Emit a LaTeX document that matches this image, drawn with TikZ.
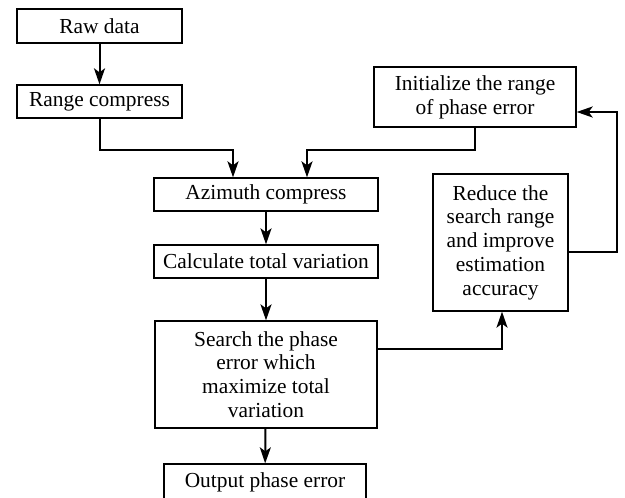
\documentclass[tikz,border=0pt]{standalone}
\usepackage{fontspec}
\setmainfont{Liberation Serif}
\usetikzlibrary{arrows.meta}
\begin{document}
\begin{tikzpicture}[x=0.5pt,y=-0.5pt,
  box/.style={draw, line width=0.65pt, inner sep=0pt, align=center,
    font=\fontsize{10.7}{11.9}\selectfont},
  link/.style={line width=1pt, -{Stealth[length=8pt,width=5.5pt,inset=2pt]}}]
\clip (0,0) rectangle (625,497);
\node[box, minimum width=82.5pt, minimum height=17pt] (raw) at (99.5,26) {Raw data};
\node[box, minimum width=82.5pt, minimum height=16.5pt] (range) at (99.5,101.5) {Range compress};
\node[box, minimum width=112pt, minimum height=16.5pt] (azimuth) at (266,194.5) {Azimuth compress};
\node[box, minimum width=112pt, minimum height=16.5pt] (calc) at (266,261.5) {Calculate total variation};
\node[box, minimum width=111pt, minimum height=53.5pt] (search) at (266,374.5) {Search the phase\\ error which\\ maximize total\\ variation};
\node[box, minimum width=101pt, minimum height=18pt] (output) at (265,482) {Output phase error};
\node[box, minimum width=101pt, minimum height=30pt] (init) at (475,97) {Initialize the range\\ of phase error};
\node[box, minimum width=67.5pt, minimum height=68.5pt] (reduce) at (500.5,242.5) {Reduce the\\ search range\\ and improve\\ estimation\\ accuracy};
\coordinate (j1) at (233,150);
\coordinate (j2) at (307,150);
\coordinate (j3) at (502,349);
\coordinate (j4) at (617,252);
\coordinate (j5) at (617,112);
\draw[link] (raw) -- (range);
\draw[link] (range.south) |- (j1) -- (j1 |- azimuth.north);
\draw[link] (init.south) |- (j2) -- (j2 |- azimuth.north);
\draw[link] (azimuth) -- (calc);
\draw[link] (calc) -- (search);
\draw[link] (search) -- (output);
\draw[link] (search.east |- j3) -- (j3) -- (reduce.south -| j3);
\draw[link] (reduce.east |- j4) -- (j4) -- (j5) -- (init.east |- j5);
\end{tikzpicture}
\end{document}
